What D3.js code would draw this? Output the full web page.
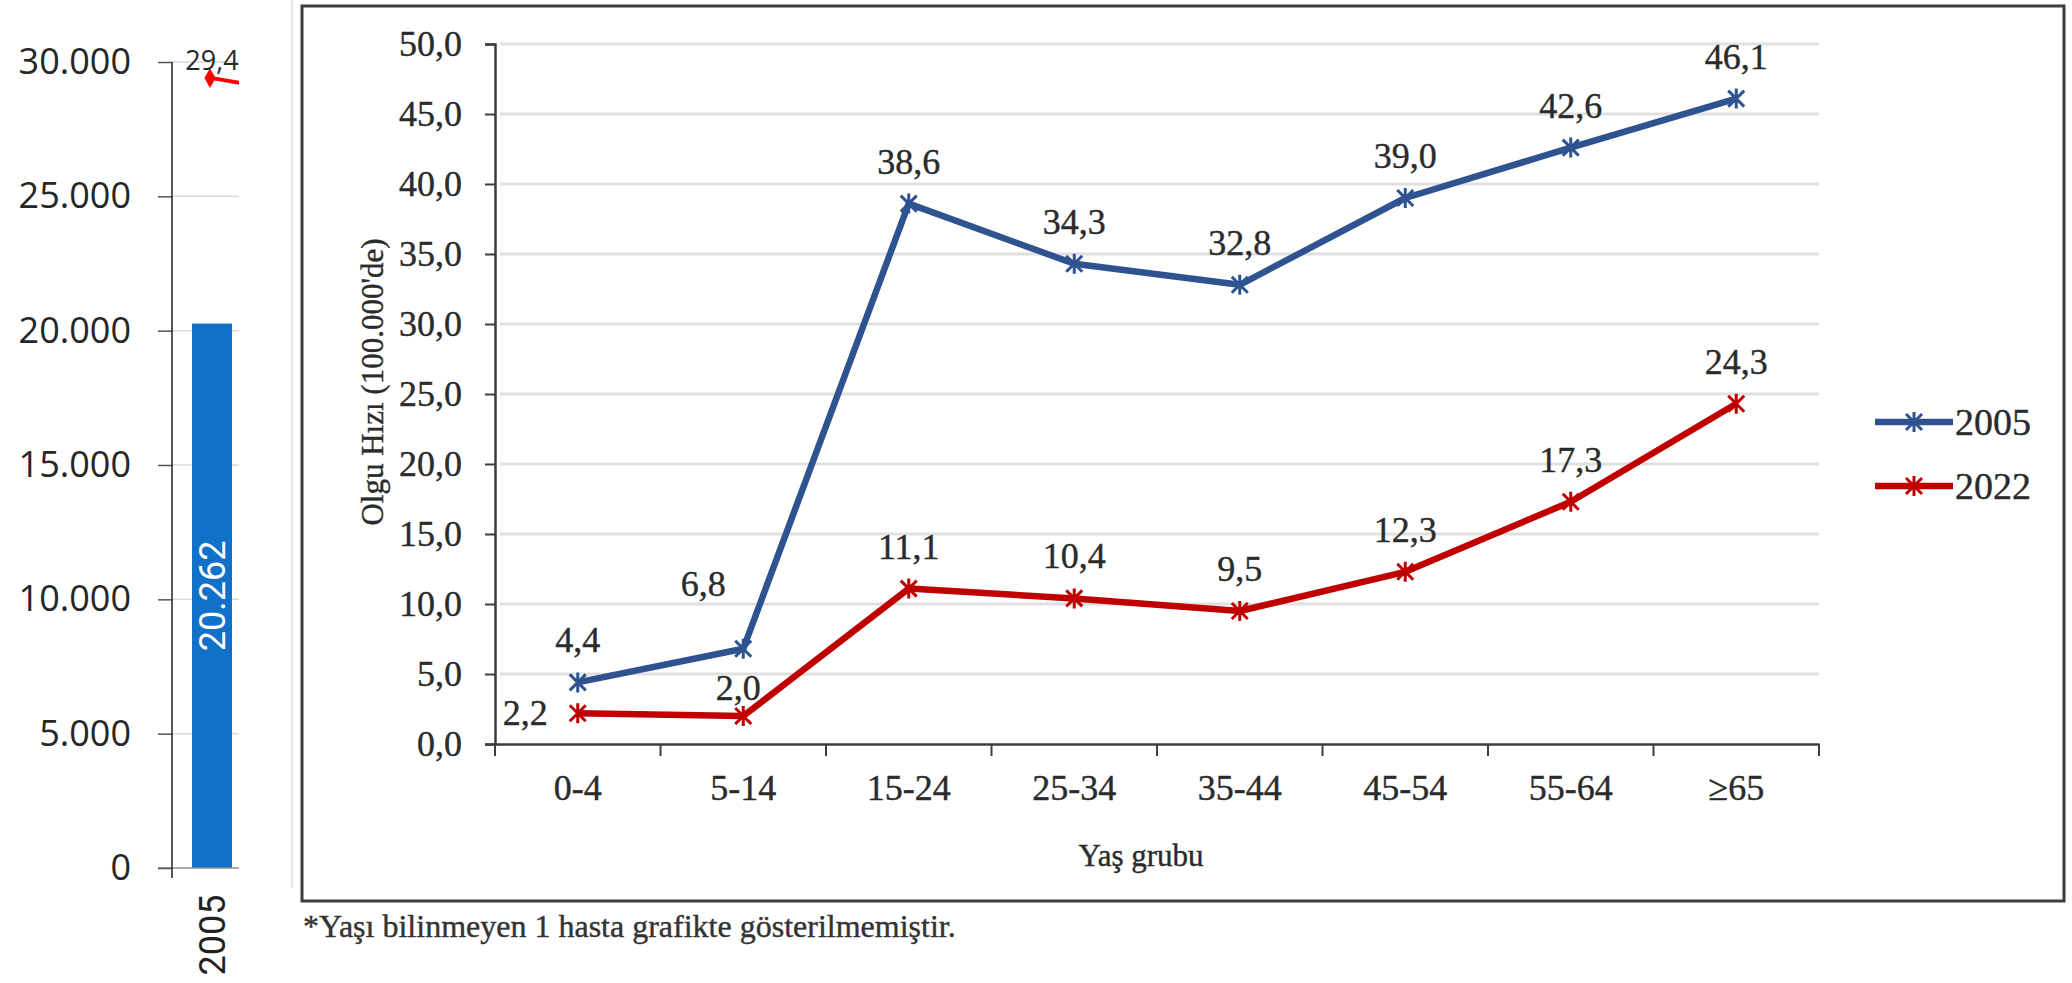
<!DOCTYPE html>
<html lang="tr">
<head>
    <meta charset="utf-8">
    <title>Olgu Hızı</title>
    <script src="https://d3js.org/d3.v7.min.js" charset="utf-8"></script>
    <style type="text/css">
        body {
            margin: 0;
            background: #fff;
        }
        .serif {
            font-family: 'Liberation Serif', 'Times New Roman', serif;
            fill: #2b2b2b;
            stroke: #2b2b2b;
            stroke-width: 0.4px;
        }
        .sans {
            font-family: 'Open Sans', sans-serif;
            fill: #262626;
        }
        .narrow {
            font-family: Roboto, sans-serif;
        }
    </style>
</head>
<body>
    <script type="text/javascript">

        // left (cropped) panel
        var leftYears = ["2005", "2006"];
        var leftCases = [20262];
        var leftRate = [29.4, 28.9];
        var leftTicks = [0, 5000, 10000, 15000, 20000, 25000, 30000];

        // main chart
        var ageGroups = ["0-4", "5-14", "15-24", "25-34", "35-44", "45-54", "55-64", "≥65"];
        var seriesNames = ["2005", "2022"];
        var rate2005 = [4.4, 6.8, 38.6, 34.3, 32.8, 39.0, 42.6, 46.1];
        var rate2022 = [2.2, 2.0, 11.1, 10.4, 9.5, 12.3, 17.3, 24.3];
        var yTicks = [0, 5, 10, 15, 20, 25, 30, 35, 40, 45, 50];

        var trLocale = d3.formatLocale({ decimal: ",", thousands: ".", grouping: [3], currency: ["", " ₺"] });
        var fmtInt = trLocale.format(",d");
        var fmt1 = trLocale.format(".1f");

        var width = 2072,
            height = 983;

        var svg = d3.select("body").append("svg")
            .attr("width", width)
            .attr("height", height);

        // ---------- left panel ----------
        var yL = d3.scaleLinear().domain([0, 30000]).range([868, 62]);
        var yR = d3.scaleLinear().domain([0, 30]).range([868, 62]);
        var xL = d3.scaleBand().domain(leftYears).range([172, 332])
            .paddingInner(0.5).paddingOuter(0.25);

        svg.append("clipPath").attr("id", "leftclip")
            .append("rect").attr("x", 0).attr("y", 0).attr("width", 239).attr("height", height);

        var left = svg.append("g").attr("clip-path", "url(#leftclip)");

        // gridlines
        left.selectAll(".lgrid")
            .data(leftTicks.filter(function (d) { return d > 0; }))
            .enter()
            .append("line")
            .attr("x1", 172).attr("x2", 240)
            .attr("y1", function (d) { return yL(d); })
            .attr("y2", function (d) { return yL(d); })
            .attr("stroke", "#d9d9d9")
            .attr("stroke-width", 1.5);

        left.selectAll(".bar")
            .data(leftCases)
            .enter()
            .append("rect")
            .attr("x", function (d, i) { return xL(leftYears[i]); })
            .attr("y", function (d) { return yL(d); })
            .attr("width", xL.bandwidth())
            .attr("height", function (d) { return yL(0) - yL(d); })
            .attr("fill", "#1170c7");

        left.selectAll(".barlabel")
            .data(leftCases)
            .enter()
            .append("text")
            .attr("class", "narrow")
            .attr("transform", function (d, i) {
                var cx = xL(leftYears[i]) + xL.bandwidth() / 2;
                var cy = (yL(d) + yL(0)) / 2;
                return "translate(" + cx + "," + cy + ") rotate(-90)";
            })
            .attr("text-anchor", "middle")
            .attr("dy", "0.36em")
            .attr("font-size", "36px")
            .attr("fill", "#fff")
            .text(function (d) { return fmtInt(d); });

        // zero baseline
        left.append("line")
            .attr("x1", 158).attr("x2", 240)
            .attr("y1", yL(0)).attr("y2", yL(0))
            .attr("stroke", "#8c8c8c")
            .attr("stroke-width", 1.5);

        // rate line (secondary series)
        var rateLine = d3.line()
            .x(function (d, i) { return xL(leftYears[i]) + xL.bandwidth() / 2; })
            .y(function (d) { return yR(d); });

        left.append("path")
            .datum(leftRate)
            .attr("d", rateLine)
            .attr("fill", "none")
            .attr("stroke", "#ff0000")
            .attr("stroke-width", 4);

        left.append("path")
            .attr("d", d3.symbol(d3.symbolDiamond, 110))
            .attr("transform", "translate(" + (xL(leftYears[0]) + xL.bandwidth() / 2 - 2) + "," + yR(leftRate[0]) + ")")
            .attr("fill", "#ff0000");

        left.append("text")
            .attr("class", "sans")
            .attr("x", xL(leftYears[0]) + xL.bandwidth() / 2)
            .attr("y", yR(leftRate[0]) - 8)
            .attr("text-anchor", "middle")
            .attr("font-size", "27px")
            .text(fmt1(leftRate[0]));

        // left axis
        var leftAxis = svg.append("g")
            .attr("transform", "translate(172,0)")
            .call(d3.axisLeft(yL).tickValues(leftTicks).tickSize(14).tickPadding(27).tickFormat(fmtInt));
        leftAxis.select(".domain").remove();
        leftAxis.selectAll("line").attr("stroke", "#555").attr("stroke-width", 1.5);
        leftAxis.selectAll("text")
            .attr("class", "sans")
            .attr("font-size", "36px")
            .attr("fill", "#262626");
        svg.append("line")
            .attr("x1", 172).attr("x2", 172)
            .attr("y1", yL(30000)).attr("y2", yL(0) + 10)
            .attr("stroke", "#222").attr("stroke-width", 1.5);

        svg.selectAll(".lyear")
            .data(leftCases)
            .enter()
            .append("text")
            .attr("class", "narrow")
            .attr("transform", function (d, i) {
                return "translate(" + (xL(leftYears[i]) + xL.bandwidth() / 2) + ",935) rotate(-90)";
            })
            .attr("text-anchor", "middle")
            .attr("dy", "0.36em")
            .attr("font-size", "36px")
            .attr("fill", "#222")
            .text(function (d, i) { return leftYears[i]; });

        // edge of the cropped panel
        svg.append("line")
            .attr("x1", 292).attr("x2", 292)
            .attr("y1", 0).attr("y2", 888)
            .attr("stroke", "#e4e4e4").attr("stroke-width", 2);

        // ---------- main chart ----------
        svg.append("rect")
            .attr("x", 302).attr("y", 6)
            .attr("width", 1762).attr("height", 895)
            .attr("fill", "#fff")
            .attr("stroke", "#3c3c3c")
            .attr("stroke-width", 3);

        var x = d3.scaleBand().domain(ageGroups).range([495, 1819]);
        var y = d3.scaleLinear().domain([0, 50]).range([744, 44]);

        var g = svg.append("g");

        // gridlines
        g.selectAll(".grid")
            .data(yTicks.filter(function (d) { return d > 0; }))
            .enter()
            .append("line")
            .attr("x1", 500).attr("x2", x.range()[1])
            .attr("y1", function (d) { return y(d); })
            .attr("y2", function (d) { return y(d); })
            .attr("stroke", "#e0e0e0")
            .attr("stroke-width", 3);

        // y axis
        var yAxis = g.append("g")
            .attr("transform", "translate(495,0)")
            .call(d3.axisLeft(y).tickValues(yTicks).tickSize(10).tickPadding(23).tickFormat(fmt1));
        yAxis.select(".domain").attr("stroke", "#3c3c3c").attr("stroke-width", 2.5);
        yAxis.selectAll(".tick line").attr("stroke", "#3c3c3c").attr("stroke-width", 2);
        yAxis.selectAll("text")
            .attr("class", "serif")
            .attr("font-size", "36px");

        // x axis, ticks between categories
        var xAxis = g.append("g")
            .attr("transform", "translate(0,744)")
            .call(d3.axisBottom(x).tickSize(0).tickPadding(30));
        xAxis.select(".domain").attr("stroke", "#3c3c3c").attr("stroke-width", 2.5);
        xAxis.selectAll("text")
            .attr("class", "serif")
            .attr("font-size", "36px");

        var bounds = ageGroups.map(function (d) { return x(d); }).concat([x.range()[1]]);
        g.selectAll(".xtick")
            .data(bounds)
            .enter()
            .append("line")
            .attr("x1", function (d) { return d; })
            .attr("x2", function (d) { return d; })
            .attr("y1", 744).attr("y2", 756)
            .attr("stroke", "#3c3c3c")
            .attr("stroke-width", 2);

        // axis titles
        g.append("text")
            .attr("class", "serif")
            .attr("transform", "translate(372,382) rotate(-90)")
            .attr("text-anchor", "middle")
            .attr("dy", "0.36em")
            .attr("font-size", "31px")
            .text("Olgu Hızı (100.000'de)");

        g.append("text")
            .attr("class", "serif")
            .attr("x", 1141).attr("y", 866)
            .attr("text-anchor", "middle")
            .attr("font-size", "31px")
            .text("Yaş grubu");

        // series
        var colors = { "2005": "#2f5290", "2022": "#c00000" };
        var series = [
            { name: seriesNames[0], values: rate2005 },
            { name: seriesNames[1], values: rate2022 }
        ];

        var cx = function (i) { return x(ageGroups[i]) + x.bandwidth() / 2; };

        var line = d3.line()
            .x(function (d, i) { return cx(i); })
            .y(function (d) { return y(d); });

        var star = "M-8,-8L8,8M-8,8L8,-8M0,-10L0,10";

        series.forEach(function (s) {
            g.append("path")
                .datum(s.values)
                .attr("d", line)
                .attr("fill", "none")
                .attr("stroke", colors[s.name])
                .attr("stroke-width", 6.5)
                .attr("stroke-linejoin", "round");

            g.selectAll(".m" + s.name)
                .data(s.values)
                .enter()
                .append("path")
                .attr("d", star)
                .attr("transform", function (d, i) { return "translate(" + cx(i) + "," + y(d) + ")"; })
                .attr("fill", "none")
                .attr("stroke", colors[s.name])
                .attr("stroke-width", 3);
        });

        // data labels (a few are nudged as in the original)
        var labelPos = function (name, i) {
            if (name === "2022" && i === 0) return { dx: -30, dy: 12, anchor: "end" };
            if (name === "2022" && i === 1) return { dx: -5, dy: -16, anchor: "middle" };
            if (name === "2005" && i === 1) return { dx: -40, dy: -53, anchor: "middle" };
            return { dx: 0, dy: -30, anchor: "middle" };
        };

        series.forEach(function (s) {
            g.selectAll(".l" + s.name)
                .data(s.values)
                .enter()
                .append("text")
                .attr("class", "serif")
                .attr("font-size", "36px")
                .attr("x", function (d, i) { return cx(i) + labelPos(s.name, i).dx; })
                .attr("y", function (d, i) { return y(d) + labelPos(s.name, i).dy; })
                .attr("text-anchor", function (d, i) { return labelPos(s.name, i).anchor; })
                .text(function (d) { return fmt1(d); });
        });

        // legend
        var legend = svg.selectAll(".legend")
            .data(seriesNames)
            .enter()
            .append("g")
            .attr("transform", function (d, i) { return "translate(1875," + (422 + i * 64) + ")"; });

        legend.append("line")
            .attr("x1", 0).attr("x2", 78)
            .attr("stroke", function (d) { return colors[d]; })
            .attr("stroke-width", 6.5);
        legend.append("path")
            .attr("d", star)
            .attr("transform", "translate(39,0)")
            .attr("fill", "none")
            .attr("stroke", function (d) { return colors[d]; })
            .attr("stroke-width", 3);
        legend.append("text")
            .attr("class", "serif")
            .attr("x", 80)
            .attr("dy", "0.35em")
            .attr("font-size", "38px")
            .text(function (d) { return d; });

        // footnote
        svg.append("text")
            .attr("class", "serif")
            .attr("x", 303).attr("y", 937)
            .attr("font-size", "32px")
            .style("fill", "#333")
            .style("stroke", "#333")
            .text("*Yaşı bilinmeyen 1 hasta grafikte gösterilmemiştir.");

    </script>
</body>
</html>
